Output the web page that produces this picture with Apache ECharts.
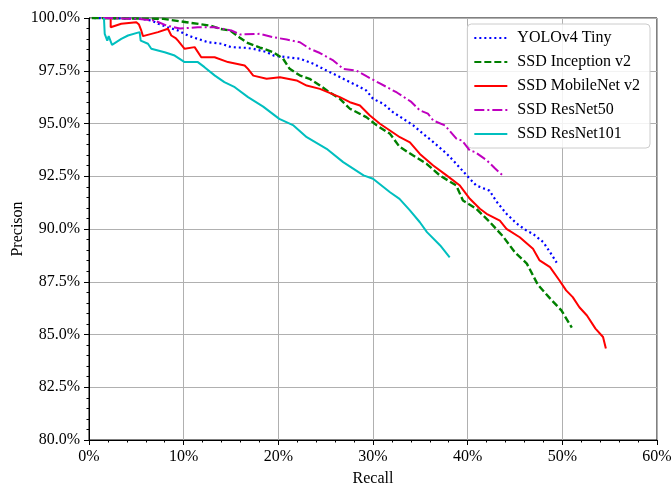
<!DOCTYPE html>
<html>
<head>
<meta charset="utf-8">
<script src="https://cdn.jsdelivr.net/npm/echarts@6/dist/echarts.min.js"></script>
<style>html,body{margin:0;padding:0;background:#fff}#c{width:671px;height:486px}</style>
</head>
<body>
<div id="c"></div>
<script>
const seriesNames = ['YOLOv4 Tiny', 'SSD Inception v2', 'SSD MobileNet v2', 'SSD ResNet50', 'SSD ResNet101'];
const xTicks = [0, 10, 20, 30, 40, 50, 60];
const yTicks = [80, 82.5, 85, 87.5, 90, 92.5, 95, 97.5, 100];

const yoloRecall = [0.5, 5.5, 6.6, 7.3, 8.3, 9.4, 10.45, 11.5, 12.6, 14.0, 15.0, 16.4, 17.35, 18.8, 19.5, 20.9, 22.3, 23.7, 25.1, 26.2, 27.2, 28.3, 29.3, 30.0, 31.1, 32.1, 33.2, 34.25, 35.3, 36.4, 37.8, 38.8, 39.9, 40.9, 42.3, 43.05, 44.1, 45.2, 46.2, 46.9, 48.0, 48.7, 49.4];
const yoloPrec = [100, 99.96, 99.88, 99.73, 99.56, 99.41, 99.17, 99.01, 98.85, 98.78, 98.62, 98.59, 98.54, 98.38, 98.22, 98.14, 98.07, 97.83, 97.51, 97.27, 97.04, 96.80, 96.56, 96.17, 95.93, 95.54, 95.22, 94.91, 94.51, 94.11, 93.56, 93.09, 92.54, 92.06, 91.82, 91.30, 90.72, 90.25, 89.93, 89.77, 89.37, 88.90, 88.41];

const incRecall = [0.3, 7.85, 10.3, 12.8, 13.8, 14.9, 15.9, 16.65, 18.06, 19.46, 20.5, 21.2, 22.3, 23.3, 24.4, 25.4, 26.5, 27.56, 29.3, 30.4, 31.8, 32.8, 34.25, 35.66, 37.06, 38.8, 39.5, 40.9, 42.3, 43.75, 45.0, 46.25, 47.4, 48.7, 49.9, 51.0];
const incPrec = [100, 99.96, 99.80, 99.64, 99.49, 99.41, 99.08, 98.84, 98.60, 98.38, 98.07, 97.59, 97.27, 97.12, 96.80, 96.48, 96.17, 95.70, 95.30, 94.91, 94.51, 93.90, 93.48, 93.09, 92.54, 92.06, 91.35, 90.96, 90.35, 89.64, 88.89, 88.36, 87.37, 86.71, 86.14, 85.33];

const mobRecall = [2.29, 2.29, 3.41, 5.0, 5.28, 5.52, 5.70, 7.29, 8.34, 8.69, 9.19, 9.40, 10.1, 11.16, 11.86, 13.27, 14.68, 16.44, 16.79, 17.0, 17.35, 18.76, 20.17, 21.93, 22.99, 24.39, 26.5, 27.56, 28.62, 29.67, 30.73, 31.79, 32.84, 33.9, 34.95, 36.36, 37.77, 39.18, 40.23, 41.29, 42.0, 43.4, 44.1, 45.5, 46.9, 47.6, 48.7, 49.7, 50.4, 51.1, 51.8, 52.6, 53.5, 54.3, 54.6];
const mobPrec = [100, 99.56, 99.73, 99.80, 99.69, 99.41, 99.14, 99.33, 99.49, 99.17, 99.03, 98.93, 98.54, 98.62, 98.14, 98.14, 97.91, 97.75, 97.59, 97.51, 97.27, 97.12, 97.19, 97.04, 96.80, 96.64, 96.25, 96.01, 95.85, 95.38, 94.99, 94.67, 94.35, 94.11, 93.56, 93.01, 92.54, 92.06, 91.43, 90.96, 90.72, 90.40, 90.01, 89.61, 89.06, 88.51, 88.19, 87.56, 87.09, 86.77, 86.29, 85.90, 85.28, 84.88, 84.34];

const r50Recall = [1.5, 5.17, 6.94, 8.2, 9.6, 11.5, 13.27, 15.03, 15.95, 18.06, 19.46, 20.88, 22.28, 23.34, 24.39, 25.8, 26.85, 28.27, 29.35, 30.73, 32.52, 34.0, 34.95, 35.8, 36.36, 37.6, 38.83, 39.4, 40.23, 40.76, 42.03, 42.9, 43.82];
const r50Prec = [100, 99.96, 99.88, 99.64, 99.50, 99.56, 99.56, 99.41, 99.22, 99.25, 99.09, 98.98, 98.85, 98.54, 98.34, 97.99, 97.59, 97.50, 97.23, 96.90, 96.47, 96.04, 95.62, 95.47, 95.14, 94.91, 94.27, 94.19, 93.72, 93.65, 93.25, 92.87, 92.49];

const r101Recall = [1.58, 1.66, 1.93, 2.08, 2.43, 3.41, 4.12, 5.35, 5.46, 6.23, 6.58, 7.99, 9.05, 10.1, 11.5, 12.2, 13.3, 14.3, 15.4, 16.8, 18.4, 20.1, 21.6, 23.0, 25.1, 26.85, 29.0, 30.0, 31.8, 32.8, 33.9, 34.95, 35.7, 37.1, 38.1];
const r101Prec = [100, 99.25, 98.93, 99.14, 98.73, 99.01, 99.17, 99.33, 98.93, 98.78, 98.54, 98.38, 98.22, 97.91, 97.91, 97.67, 97.27, 96.96, 96.72, 96.25, 95.80, 95.22, 94.91, 94.35, 93.80, 93.17, 92.54, 92.38, 91.74, 91.43, 90.88, 90.32, 89.85, 89.22, 88.66];

const zip = (a, b) => a.map((v, i) => [v, b[i]]);
const recalls = [yoloRecall, incRecall, mobRecall, r50Recall, r101Recall];
const precs = [yoloPrec, incPrec, mobPrec, r50Prec, r101Prec];
const colors = ['#0000ff', '#008000', '#ff0000', '#bf00bf', '#00bfbf'];
const dashes = [[2, 3], [7, 3], 'solid', [10, 3, 2, 3], 'solid'];
const widths = [2.2, 2.4, 2, 2, 2];

const FONT = 'Liberation Serif';
const chart = echarts.init(document.getElementById('c'), null, {renderer: 'canvas'});
chart.setOption({
  animation: false,
  backgroundColor: '#fff',
  grid: {left: 89, right: 14, top: 18, bottom: 46, containLabel: false, outerBoundsMode: 'none',
         show: true, borderColor: '#000', borderWidth: 1, backgroundColor: 'transparent'},
  legend: {
    orient: 'vertical', right: 21, top: 24,
    data: seriesNames,
    itemWidth: 33, itemHeight: 14, itemGap: 8,
    padding: [6, 10, 6, 6],
    backgroundColor: 'rgba(255,255,255,0.85)',
    borderColor: '#cccccc', borderWidth: 1, borderRadius: 4,
    itemStyle: {opacity: 0, borderWidth: 0},
    textStyle: {fontFamily: FONT, fontSize: 16, color: '#000', padding: [0, 0, 0, 5]}
  },
  xAxis: {
    type: 'value', min: xTicks[0], max: xTicks[xTicks.length - 1], interval: 10,
    name: 'Recall', nameLocation: 'middle', nameGap: 31, nameMoveOverlap: false,
    nameTextStyle: {fontFamily: FONT, fontSize: 16, color: '#000'},
    axisLine: {show: true, lineStyle: {color: '#000', width: 1}},
    axisTick: {show: true, inside: false, length: 5, lineStyle: {color: '#000'}},
    minorTick: {show: true, splitNumber: 5, length: 2.5, lineStyle: {color: '#000'}},
    splitLine: {show: true, lineStyle: {color: '#b0b0b0', width: 1}},
    axisLabel: {fontFamily: FONT, fontSize: 16, color: '#000', margin: 9, formatter: v => v + '%'}
  },
  yAxis: {
    type: 'value', min: yTicks[0], max: yTicks[yTicks.length - 1], interval: 2.5,
    name: 'Precison', nameLocation: 'middle', nameGap: 63, nameMoveOverlap: false,
    nameTextStyle: {fontFamily: FONT, fontSize: 16, color: '#000'},
    axisLine: {show: true, lineStyle: {color: '#000', width: 1}},
    axisTick: {show: true, inside: false, length: 5, lineStyle: {color: '#000'}},
    minorTick: {show: true, splitNumber: 5, length: 2.5, lineStyle: {color: '#000'}},
    splitLine: {show: true, lineStyle: {color: '#b0b0b0', width: 1}},
    axisLabel: {fontFamily: FONT, fontSize: 16, color: '#000', margin: 9, formatter: v => v.toFixed(1) + '%'}
  },
  series: seriesNames.map((n, i) => ({
    name: n, type: 'line', data: zip(recalls[i], precs[i]),
    showSymbol: false, symbol: 'none', clip: true,
    color: colors[i],
    lineStyle: {color: colors[i], width: widths[i], type: dashes[i]},
    itemStyle: {color: colors[i]},
    z: 2 + i
  }))
});
</script>
</body>
</html>
